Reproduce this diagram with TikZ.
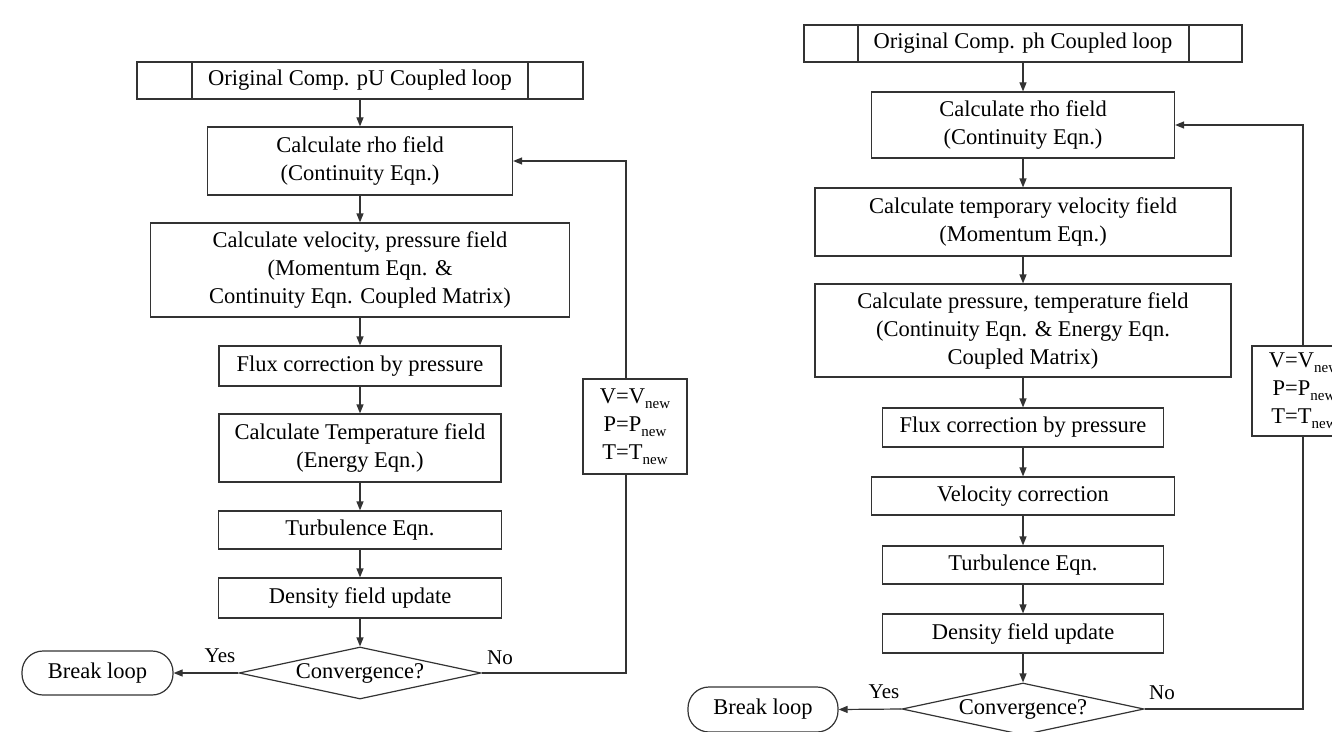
\documentclass[tikz,border=0pt]{standalone}
\usepackage{fontspec}
\setmainfont{Liberation Serif}
\usetikzlibrary{arrows.meta,shapes.geometric}
\newcommand{\sbnew}{\raisebox{-5bp}{\fontsize{15bp}{15bp}\selectfont new}}
\begin{document}
\begin{tikzpicture}[x=1bp,y=-1bp,
  ln/.style={draw=black!80, line width=1.2bp},
  txt/.style={font=\fontsize{22.5bp}{28bp}\selectfont},
  box/.style={ln, txt, rectangle, inner sep=0pt, align=center, fill=white},
  hdr/.style={box, line width=1.7bp},
  cond/.style={ln, txt, diamond, aspect=4.65, inner sep=0pt, text height=15bp, text depth=4bp, minimum width=242bp, minimum height=52bp, fill=white},
  term/.style={box, rounded corners=21bp},
  lbl/.style={font=\fontsize{21bp}{24bp}\selectfont, inner sep=0pt},
  arr/.style={ln, -{Triangle[length=9bp,width=7bp]}},
  wire/.style={ln}]
\useasboundingbox (0,0) rectangle (1332,731);
\clip (0,0) rectangle (1332,731);

% ---------------- left chart ----------------
\node[hdr, minimum width=446bp, minimum height=37bp] (lh) at (360,80.5) {Original Comp. pU Coupled loop};
\draw[ln, line width=1.7bp] ([xshift=56bp]lh.north west) -- ([xshift=56bp]lh.south west);
\draw[ln, line width=1.7bp] ([xshift=-56bp]lh.north east) -- ([xshift=-56bp]lh.south east);
\node[box, minimum width=305bp, minimum height=68bp] (l1) at (360,161) {Calculate rho field\\(Continuity Eqn.)};
\node[box, minimum width=419bp, minimum height=94bp] (l2) at (360,270) {Calculate velocity, pressure field\\(Momentum Eqn. \&\\Continuity Eqn. Coupled Matrix)};
\node[box, minimum width=282bp, minimum height=40bp] (l3) at (360,366) {Flux correction by pressure};
\node[box, minimum width=282bp, minimum height=68bp] (l4) at (360,448) {Calculate Temperature field\\(Energy Eqn.)};
\node[box, minimum width=283bp, minimum height=38bp] (l5) at (360,530) {Turbulence Eqn.};
\node[box, minimum width=283bp, minimum height=40bp] (l6) at (360,598) {Density field update};
\node[cond] (ld) at (360,673) {Convergence?};
\node[term, minimum width=151bp, minimum height=44bp] (lb) at (97.5,673) {Break loop};
\node[box, minimum width=104bp, minimum height=95bp] (lv) at (635,426.5) {V=V\sbnew\\P=P\sbnew\\T=T\sbnew};
\node[lbl] (lyes) at (220,656) {Yes};
\node[lbl] (lno) at (500,658) {No};
\coordinate (lc) at (626,673);

\draw[arr] (lh) -- (l1);
\draw[arr] (l1) -- (l2);
\draw[arr] (l2) -- (l3);
\draw[arr] (l3) -- (l4);
\draw[arr] (l4) -- (l5);
\draw[arr] (l5) -- (l6);
\draw[arr] (l6) -- (ld);
\draw[arr] (ld.west) -- (lb.east);
\draw[wire] (ld.east) -- (lc) -- (lc |- lv.south);
\draw[arr] (lc |- lv.north) |- (l1.east);

% ---------------- right chart ----------------
\node[hdr, minimum width=438bp, minimum height=37bp] (rh) at (1023,43.5) {Original Comp. ph Coupled loop};
\draw[ln, line width=1.7bp] ([xshift=55bp]rh.north west) -- ([xshift=55bp]rh.south west);
\draw[ln, line width=1.7bp] ([xshift=-54bp]rh.north east) -- ([xshift=-54bp]rh.south east);
\node[box, minimum width=303bp, minimum height=66bp] (r1) at (1023,125) {Calculate rho field\\(Continuity Eqn.)};
\node[box, minimum width=416bp, minimum height=68bp] (r2) at (1023,222) {Calculate temporary velocity field\\(Momentum Eqn.)};
\node[box, minimum width=416bp, minimum height=93bp] (r3) at (1023,330.5) {Calculate pressure, temperature field\\(Continuity Eqn. \& Energy Eqn.\\Coupled Matrix)};
\node[box, minimum width=281bp, minimum height=39bp] (r4) at (1023,427.5) {Flux correction by pressure};
\node[box, minimum width=303bp, minimum height=38bp] (r5) at (1023,496) {Velocity correction};
\node[box, minimum width=281bp, minimum height=38bp] (r6) at (1023,565) {Turbulence Eqn.};
\node[box, minimum width=281bp, minimum height=39bp] (r7) at (1023,633.5) {Density field update};
\node[cond] (rd) at (1023,709) {Convergence?};
\node[term, minimum width=150bp, minimum height=45bp] (rb) at (763,709.5) {Break loop};
\node[box, minimum width=104bp, minimum height=90bp] (rv) at (1304,391) {V=V\sbnew\\P=P\sbnew\\T=T\sbnew};
\node[lbl] (ryes) at (884,692) {Yes};
\node[lbl] (rno) at (1162,693) {No};
\coordinate (rc) at (1303,709);

\draw[arr] (rh) -- (r1);
\draw[arr] (r1) -- (r2);
\draw[arr] (r2) -- (r3);
\draw[arr] (r3) -- (r4);
\draw[arr] (r4) -- (r5);
\draw[arr] (r5) -- (r6);
\draw[arr] (r6) -- (r7);
\draw[arr] (r7) -- (rd);
\draw[arr] (rd.west) -- (rb.east);
\draw[wire] (rd.east) -- (rc) -- (rc |- rv.south);
\draw[arr] (rc |- rv.north) |- (r1.east);
\end{tikzpicture}
\end{document}
